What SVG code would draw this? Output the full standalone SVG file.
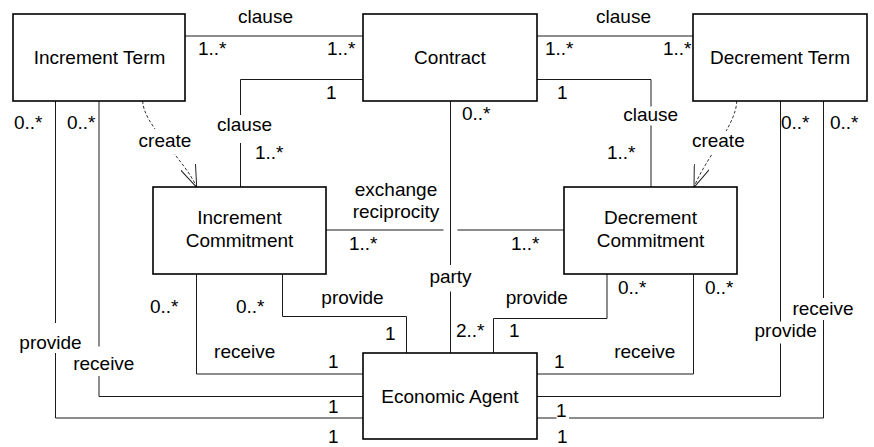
<svg xmlns="http://www.w3.org/2000/svg" width="874" height="447" viewBox="0 0 874 447">
  <style>
    .box { fill: #fff; stroke: #000; stroke-width: 1.6; }
    .name { font-family: "Liberation Sans", Arial, sans-serif; font-size: 19px; fill: #000; text-anchor: middle; }
    .lbl { font-family: "Liberation Sans", Arial, sans-serif; font-size: 19px; fill: #000; }
    .mid { text-anchor: middle; }
    .assoc { fill: none; stroke: #1a1a1a; stroke-width: 1; }
    .dep { fill: none; stroke: #333; stroke-width: 1; stroke-dasharray: 3 2; }
  </style>
  <defs>
    <marker id="open-arrow" markerUnits="userSpaceOnUse" viewBox="0 0 22 16" refX="22" refY="8" markerWidth="22" markerHeight="16" orient="auto">
      <path d="M0,0 L22,8 L0,16" fill="none" stroke="#222" stroke-width="1" stroke-dasharray="none"/>
    </marker>
  </defs>

  <!-- associations and dependencies -->
  <g id="connectors">
    <!-- clause: Increment Term - Contract -->
    <path class="assoc" d="M185,36 H363"/>
    <!-- clause: Contract - Decrement Term -->
    <path class="assoc" d="M537,36 H693"/>
    <!-- clause: Contract - Increment Commitment -->
    <path class="assoc" d="M363,79.5 H240.5 V115 M240.5,143 V187"/>
    <!-- clause: Contract - Decrement Commitment -->
    <path class="assoc" d="M537,79.5 H651 V106.5 M651,125.5 V187"/>
    <!-- party: Contract - Economic Agent -->
    <path class="assoc" d="M450.5,101 V265 M450.5,291.5 V353"/>
    <!-- exchange reciprocity -->
    <path class="assoc" d="M326,230 H443.5 M457.5,230 H564"/>
    <!-- provide / receive: Increment Commitment - Economic Agent -->
    <path class="assoc" d="M282.5,274 V316.5 H406.5 V353"/>
    <path class="assoc" d="M196.5,274 V374 H363"/>
    <!-- receive / provide: Increment Term - Economic Agent -->
    <path class="assoc" d="M99,101 V346.5 M99,376 V396.5 H363"/>
    <path class="assoc" d="M55.5,101 V323 M55.5,353 V418 H363"/>
    <!-- provide / receive: Decrement Commitment - Economic Agent -->
    <path class="assoc" d="M607,274 V318.5 H493.5 V353"/>
    <path class="assoc" d="M693.5,274 V374 H537"/>
    <!-- provide / receive: Decrement Term - Economic Agent -->
    <path class="assoc" d="M780.5,101 V321.5 M780.5,343.5 V396.5 H537"/>
    <path class="assoc" d="M823.5,101 V298 M823.5,320 V418 H569 M556.5,418 H537"/>
    <!-- create dependencies -->
    <path class="dep" d="M142.7,101 C143,125 185,159.7 196.7,187.3" marker-end="url(#open-arrow)"/>
    <path class="dep" d="M736.7,101 C736.5,125 704.6,159.3 694,187.3" marker-end="url(#open-arrow)"/>
    <rect x="136" y="129" width="58" height="25" fill="#fff"/>
    <rect x="690" y="131" width="58" height="23" fill="#fff"/>
  </g>

  <!-- classes -->
  <g id="increment-term">
    <rect class="box" x="13" y="14" width="172" height="87"/>
    <text class="name" x="99.5" y="64">Increment Term</text>
  </g>
  <g id="contract">
    <rect class="box" x="363" y="14" width="174" height="87"/>
    <text class="name" x="450" y="64">Contract</text>
  </g>
  <g id="decrement-term">
    <rect class="box" x="693" y="14" width="174" height="87"/>
    <text class="name" x="780" y="64">Decrement Term</text>
  </g>
  <g id="increment-commitment">
    <rect class="box" x="153" y="187" width="173" height="87"/>
    <text class="name" x="239.5" y="224">Increment</text>
    <text class="name" x="239.5" y="247">Commitment</text>
  </g>
  <g id="decrement-commitment">
    <rect class="box" x="564" y="187" width="173" height="87"/>
    <text class="name" x="650.5" y="224">Decrement</text>
    <text class="name" x="650.5" y="247">Commitment</text>
  </g>
  <g id="economic-agent">
    <rect class="box" x="363" y="353" width="174" height="86"/>
    <text class="name" x="450" y="403">Economic Agent</text>
  </g>

  <!-- role names and multiplicities -->
  <g id="labels">
    <text class="lbl mid" x="265.5" y="23">clause</text>
    <text class="lbl mid" x="623.5" y="23">clause</text>
    <text class="lbl mid" x="244.5" y="130.5">clause</text>
    <text class="lbl mid" x="650.7" y="120.5">clause</text>
    <text class="lbl mid" x="165" y="147.3">create</text>
    <text class="lbl mid" x="718.3" y="147">create</text>
    <text class="lbl mid" x="396" y="196">exchange</text>
    <text class="lbl mid" x="396" y="218.3">reciprocity</text>
    <text class="lbl mid" x="450.5" y="283">party</text>
    <text class="lbl mid" x="352.5" y="303.5">provide</text>
    <text class="lbl mid" x="536.8" y="303.5">provide</text>
    <text class="lbl mid" x="244.7" y="358.3">receive</text>
    <text class="lbl mid" x="644.8" y="358.3">receive</text>
    <text class="lbl mid" x="50.5" y="349">provide</text>
    <text class="lbl mid" x="103.8" y="370">receive</text>
    <text class="lbl mid" x="785.7" y="336.7">provide</text>
    <text class="lbl mid" x="823" y="315">receive</text>

    <text class="lbl" x="198" y="55">1..*</text>
    <text class="lbl" x="327" y="55">1..*</text>
    <text class="lbl" x="545" y="55">1..*</text>
    <text class="lbl" x="663" y="55">1..*</text>
    <text class="lbl" x="326" y="99">1</text>
    <text class="lbl" x="557" y="99">1</text>
    <text class="lbl" x="255" y="159">1..*</text>
    <text class="lbl" x="607" y="159">1..*</text>
    <text class="lbl" x="14" y="129">0..*</text>
    <text class="lbl" x="67" y="129">0..*</text>
    <text class="lbl" x="781" y="128.5">0..*</text>
    <text class="lbl" x="830" y="128.5">0..*</text>
    <text class="lbl" x="462" y="120">0..*</text>
    <text class="lbl" x="349" y="250">1..*</text>
    <text class="lbl" x="511" y="250">1..*</text>
    <text class="lbl" x="150" y="313">0..*</text>
    <text class="lbl" x="236" y="313">0..*</text>
    <text class="lbl" x="618" y="294">0..*</text>
    <text class="lbl" x="705" y="294">0..*</text>
    <text class="lbl" x="385" y="340">1</text>
    <text class="lbl" x="456" y="336.5">2..*</text>
    <text class="lbl" x="509" y="336.5">1</text>
    <text class="lbl" x="328" y="368">1</text>
    <text class="lbl" x="328" y="413">1</text>
    <text class="lbl" x="328" y="443">1</text>
    <text class="lbl" x="554" y="368">1</text>
    <text class="lbl" x="556" y="416.5">1</text>
    <text class="lbl" x="557" y="443">1</text>
  </g>
</svg>
